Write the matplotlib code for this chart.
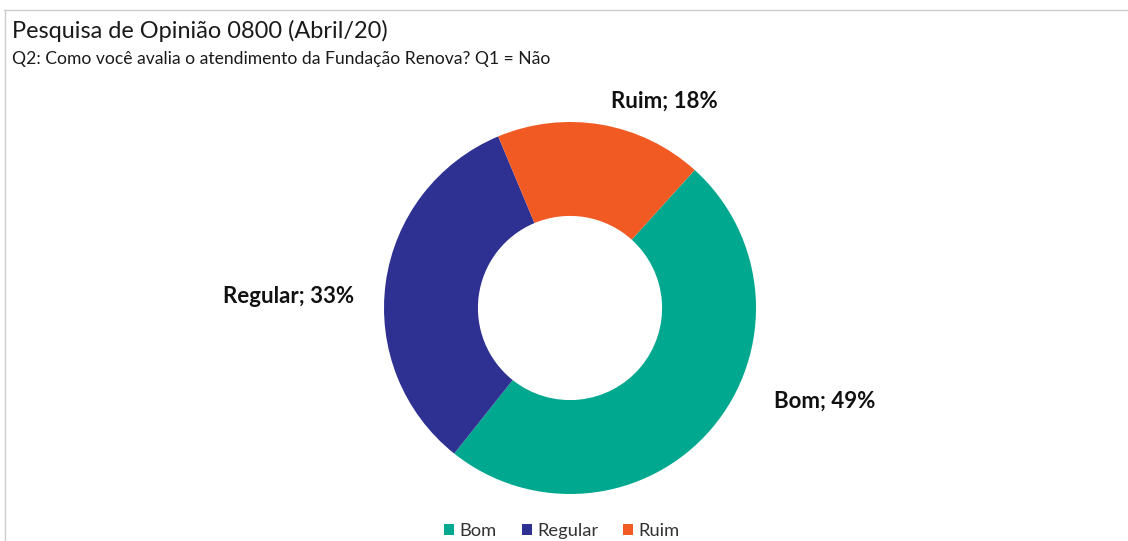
import matplotlib.pyplot as plt
from matplotlib.lines import Line2D

plt.rcParams['font.family'] = ['Lato', 'DejaVu Sans']

# Data
categories = ['Bom', 'Regular', 'Ruim']
values = [49, 33, 18]
colors = ['#00A88F', '#2E3192', '#F15A22']

W, H = 1128, 541
fig = plt.figure(figsize=(W / 100, H / 100), dpi=100)

# chart frame (top and left edge visible)
fig.add_artist(Line2D([4 / W, 1], [1 - 10 / H, 1 - 10 / H], color='#cccccc', lw=1.0))
fig.add_artist(Line2D([5 / W, 5 / W], [0, 1 - 10 / H], color='#cccccc', lw=1.0))

fig.text(12 / W, 1 - 31 / H, 'Pesquisa de Opinião 0800 (Abril/20)', fontsize=16.9,
         va='center', ha='left', color='#1a1a1a')
fig.text(12 / W, 1 - 59 / H, 'Q2: Como você avalia o atendimento da Fundação Renova? Q1 = Não',
         fontsize=12.6, va='center', ha='left', color='#1a1a1a')

# donut
cx, cy, r = 570, 308, 186
ax = fig.add_axes([(cx - r) / W, (H - cy - r) / H, 2 * r / W, 2 * r / H])
wedges, _ = ax.pie(values, colors=colors, startangle=47.9, counterclock=False,
                   radius=1, wedgeprops=dict(width=0.505, linewidth=0))
ax.set_xlim(-1, 1)
ax.set_ylim(-1, 1)
ax.set_aspect('equal')
ax.axis('off')

# data labels
label_pos = {'Bom': (1.37, -0.50), 'Regular': (-1.515, 0.06), 'Ruim': (0.51, 1.11)}
for cat, val in zip(categories, values):
    x, y = label_pos[cat]
    ax.text(x, y, f'{cat}; {val}%', fontsize=16, fontweight='bold',
            ha='center', va='center', color='#111111', clip_on=False)

fig.legend(wedges, categories, loc='center', bbox_to_anchor=(562 / W, 1 - 531 / H),
           ncol=3, frameon=False, fontsize=13.2, handlelength=0.55, handleheight=0.55,
           handletextpad=0.3, columnspacing=1.35, labelcolor='#333333')

fig.savefig('out.png', dpi=100)
